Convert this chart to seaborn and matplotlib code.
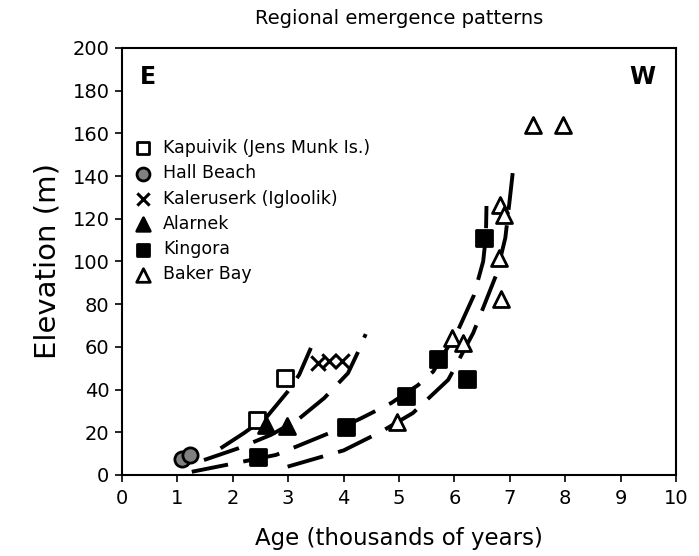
import matplotlib
matplotlib.use("Agg")
import matplotlib.pyplot as plt
import seaborn as sns
import pandas as pd

# ---- data ----
kapuivik_x = [2.43, 2.95]
kapuivik_y = [25.6, 45.2]
hall_x = [1.08, 1.22]
hall_y = [7.4, 9.4]
kaler_x = [3.53, 3.74, 3.98]
kaler_y = [52.4, 53.2, 53.2]
alarnek_x = [2.60, 2.98]
alarnek_y = [23.5, 23.0]
kingora_x = [2.45, 4.04, 5.12, 5.71, 6.22, 6.53]
kingora_y = [8.3, 22.7, 36.8, 54.4, 45.0, 111.0]
baker_x = [4.96, 5.95, 6.16, 6.82, 6.89, 6.81, 6.85, 7.42, 7.96]
baker_y = [25.0, 64.3, 62.0, 126.6, 121.6, 101.5, 82.4, 163.9, 163.9]

# emergence curves
curveA_x = [1.78, 2.2, 2.62, 2.99, 3.2, 3.41]
curveA_y = [12.5, 19.6, 27.4, 39.0, 47.0, 59.5]
curveB_x = [1.48, 2.1, 2.69, 3.17, 3.65, 4.08, 4.25, 4.4]
curveB_y = [7.0, 12.5, 18.8, 25.8, 36.0, 47.7, 57.0, 66.0]
curveC_x = [1.26, 2.17, 2.78, 3.74, 4.32, 4.86, 5.34, 5.62, 6.07, 6.35, 6.52, 6.57, 6.58]
curveC_y = [1.5, 6.2, 9.4, 19.6, 26.6, 33.7, 42.0, 48.5, 68.0, 84.0, 100.0, 112.0, 126.0]
curveD_x = [2.99, 4.0, 4.68, 5.25, 5.89, 6.34, 6.76, 6.92, 7.0, 7.06]
curveD_y = [3.9, 11.5, 20.3, 29.0, 44.6, 66.5, 94.0, 111.0, 129.0, 143.0]

labels = ["Kapuivik (Jens Munk Is.)", "Hall Beach", "Kaleruserk (Igloolik)",
          "Alarnek", "Kingora", "Baker Bay"]
x_ticks = list(range(0, 11))
y_ticks = list(range(0, 201, 20))

sns.set_theme(style="ticks")
plt.rcParams["font.family"] = ["DejaVu Sans"]
plt.rcParams["text.color"] = "black"
plt.rcParams["axes.labelcolor"] = "black"

fig = plt.figure(figsize=(6.99, 5.56), dpi=100)
ax = fig.add_axes([0.1745, 0.1457, 0.7925, 0.768])

# curves
for cx, cy in [(curveA_x, curveA_y), (curveB_x, curveB_y),
               (curveC_x, curveC_y), (curveD_x, curveD_y)]:
    d = pd.DataFrame({"x": cx, "y": cy})
    sns.lineplot(data=d, x="x", y="y", ax=ax, color="black", lw=2.8,
                 sort=False, estimator=None, dashes=False, zorder=2)
for ln in ax.lines:
    ln.set_dashes((9.5, 4))
    ln.set_solid_capstyle("butt")

ms = 120
specs = [
    (kapuivik_x, kapuivik_y, labels[0], "s", "white", ms),
    (hall_x, hall_y, labels[1], "o", "#808080", ms),
    (kaler_x, kaler_y, labels[2], "x", "black", ms * 0.9),
    (alarnek_x, alarnek_y, labels[3], "^", "black", ms * 1.1),
    (kingora_x, kingora_y, labels[4], "s", "black", ms),
    (baker_x, baker_y, labels[5], "^", "white", ms * 1.1),
]
for sx, sy, lab, mk, fc, sz in specs:
    d = pd.DataFrame({"x": sx, "y": sy})
    if mk == "x":
        sns.scatterplot(data=d, x="x", y="y", ax=ax, marker=mk, s=sz,
                        color="black", linewidth=2.2, label=lab, zorder=3)
    else:
        sns.scatterplot(data=d, x="x", y="y", ax=ax, marker=mk, s=sz,
                        facecolor=fc, edgecolor="black", linewidth=2.0,
                        label=lab, zorder=3)

ax.set_xlim(0, 10)
ax.set_ylim(0, 200)
ax.set_xticks(x_ticks)
ax.set_yticks(y_ticks)
ax.tick_params(axis="both", direction="out", length=5, width=1.2,
               labelsize=14, colors="black")
ax.tick_params(axis="x", pad=5)
ax.tick_params(axis="y", pad=4)
for sp in ax.spines.values():
    sp.set_visible(True)
    sp.set_linewidth(1.5)
    sp.set_color("black")

ax.set_xlabel("Age (thousands of years)", fontsize=16.5, labelpad=14)
ax.set_ylabel("Elevation (m)", fontsize=21, labelpad=8)
ax.set_title("Regional emergence patterns", fontsize=14, pad=17)

ax.text(0.033, 0.96, "E", transform=ax.transAxes, fontsize=17,
        fontweight="bold", ha="left", va="top")
ax.text(0.963, 0.96, "W", transform=ax.transAxes, fontsize=17,
        fontweight="bold", ha="right", va="top")

leg = ax.legend(loc="upper left", bbox_to_anchor=(0.022, 0.787), frameon=False,
                fontsize=12.5, handlelength=1.0, handletextpad=0.65,
                labelspacing=0.42, borderpad=0, borderaxespad=0,
                markerscale=0.85)
for t in leg.get_texts():
    t.set_color("black")

fig.savefig("out.png", dpi=100)
